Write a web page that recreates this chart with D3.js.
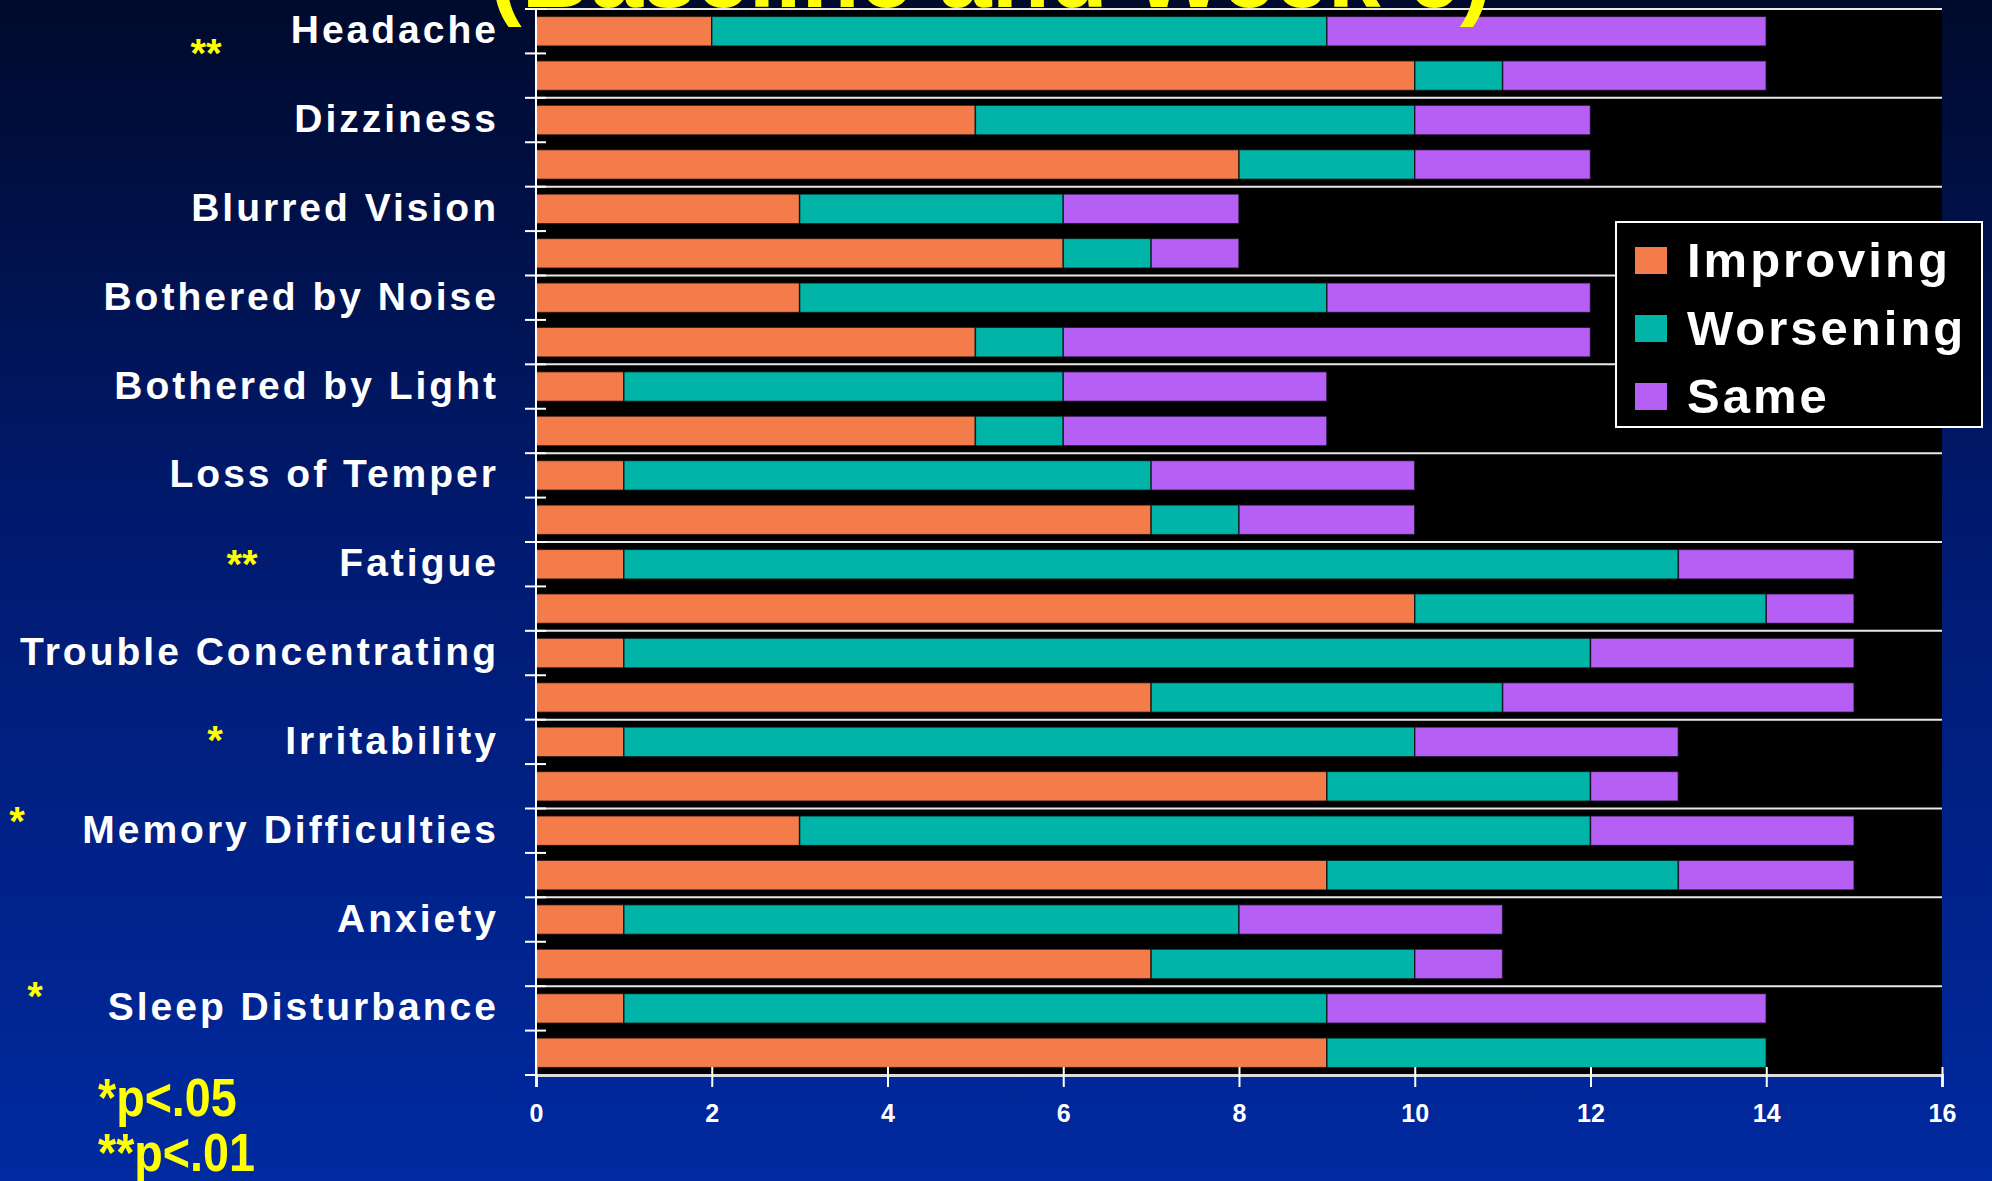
<!DOCTYPE html>
<html>
<head>
<meta charset="utf-8">
<script src="https://cdn.jsdelivr.net/npm/d3@7"></script>
<style>
  html, body { margin: 0; padding: 0; background: #001a70; }
  svg { display: block; }
  .cat-label { font-family: "Liberation Sans", Arial, sans-serif; font-weight: bold; fill: #fff; }
</style>
</head>
<body>
<div id="chart"></div>
<script>
const categories = [
  "Headache", "Dizziness", "Blurred Vision", "Bothered by Noise", "Bothered by Light",
  "Loss of Temper", "Fatigue", "Trouble Concentrating", "Irritability",
  "Memory Difficulties", "Anxiety", "Sleep Disturbance"
];
const series = ["Improving", "Worsening", "Same"];
const colors = ["#f47c4a", "#00b5a8", "#b65ff5"];

// upper bar of each pair
const groupAImproving = [2, 5, 3, 3, 1, 1, 1, 1, 1, 3, 1, 1];
const groupAWorsening = [7, 5, 3, 6, 5, 6, 12, 11, 9, 9, 7, 8];
const groupASame      = [5, 2, 2, 3, 3, 3, 2, 3, 3, 3, 3, 5];

// lower bar of each pair
const groupBImproving = [10, 8, 6, 5, 5, 7, 10, 7, 9, 9, 7, 9];
const groupBWorsening = [1, 2, 1, 1, 1, 1, 4, 4, 3, 4, 3, 5];
const groupBSame      = [3, 2, 1, 6, 3, 2, 1, 4, 1, 2, 1, 0];

const sigMarks = ["**", "", "", "", "", "", "**", "", "*", "*", "", "*"];
const xTicks = [0, 2, 4, 6, 8, 10, 12, 14, 16];
const footnotes = ["*p<.05", "**p<.01"];
const title = "(Baseline and Week 6)";

const width = 1992;
const height = 1181;

// where the significance stars sit (x, offset from row top)
const starPlace = {
  "Headache": [206, 41],
  "Fatigue": [242, 19],
  "Irritability": [215, 17],
  "Memory Difficulties": [17, 9],
  "Sleep Disturbance": [35, 7]
};

const plot = { left: 536, right: 1942, top: 9, bottom: 1075 };

const groups = ["A", "B"];
const rows = [];
categories.forEach((cat, i) => {
  const a = [groupAImproving[i], groupAWorsening[i], groupASame[i]];
  const b = [groupBImproving[i], groupBWorsening[i], groupBSame[i]];
  [a, b].forEach((vals, g) => {
    let x0 = 0;
    vals.forEach((v, s) => {
      rows.push({ cat, group: groups[g], series: series[s], x0, x1: x0 + v });
      x0 += v;
    });
  });
});

const svg = d3.select('#chart')
  .append('svg')
  .attr('width', width)
  .attr('height', height);

const defs = svg.append('defs');
const grad = defs.append('linearGradient')
  .attr('id', 'bg')
  .attr('x1', 0).attr('y1', 0).attr('x2', 0).attr('y2', 1);
grad.append('stop').attr('offset', '0%').attr('stop-color', '#000a2c');
grad.append('stop').attr('offset', '45%').attr('stop-color', '#001a70');
grad.append('stop').attr('offset', '100%').attr('stop-color', '#002aa0');

svg.append('rect')
  .attr('width', width).attr('height', height)
  .attr('fill', 'url(#bg)');

const xScale = d3.scaleLinear().domain([0, 16]).range([plot.left, plot.right]);
const yScale = d3.scaleBand().domain(categories).range([plot.top, plot.bottom]);
const ySub = d3.scaleBand().domain(groups)
  .range([0, yScale.bandwidth()])
  .paddingInner(0.33).paddingOuter(0.165);

// plot area
svg.append('rect')
  .attr('x', plot.left).attr('y', plot.top)
  .attr('width', plot.right - plot.left)
  .attr('height', plot.bottom - plot.top)
  .attr('fill', '#000');

// gridlines at category boundaries
svg.append('g')
  .selectAll('line')
  .data(categories)
  .join('line')
  .attr('x1', plot.left).attr('x2', plot.right)
  .attr('y1', (d) => yScale(d)).attr('y2', (d) => yScale(d))
  .attr('stroke', '#e8e8e8')
  .attr('stroke-width', 2);

// bars
svg.append('g')
  .selectAll('rect')
  .data(rows.filter((d) => d.x1 > d.x0))
  .join('rect')
  .attr('x', (d) => xScale(d.x0))
  .attr('y', (d) => yScale(d.cat) + ySub(d.group))
  .attr('width', (d) => xScale(d.x1) - xScale(d.x0))
  .attr('height', ySub.bandwidth())
  .attr('fill', (d) => colors[series.indexOf(d.series)])
  .attr('stroke', 'rgba(0,0,0,0.65)')
  .attr('stroke-width', 1.5);

// y axis
const yTickPos = [];
categories.forEach((c) => {
  yTickPos.push(yScale(c), yScale(c) + yScale.bandwidth() / 2);
});
yTickPos.push(plot.bottom);

const yAxisG = svg.append('g');
yAxisG.append('line')
  .attr('x1', plot.left).attr('x2', plot.left)
  .attr('y1', plot.top).attr('y2', plot.bottom + 12)
  .attr('stroke', '#fff').attr('stroke-width', 2);
yAxisG.selectAll('.ytick')
  .data(yTickPos)
  .join('line')
  .attr('class', 'ytick')
  .attr('x1', plot.left - 11).attr('x2', plot.left + 10)
  .attr('y1', (d) => d).attr('y2', (d) => d)
  .attr('stroke', '#fff').attr('stroke-width', 2);

// x axis
const xAxis = d3.axisBottom(xScale)
  .tickValues(xTicks)
  .tickSize(12)
  .tickPadding(17)
  .tickFormat(d3.format('d'));

const xAxisG = svg.append('g')
  .attr('transform', `translate(0, ${plot.bottom})`)
  .call(xAxis);
xAxisG.select('.domain').attr('stroke', '#ddd').attr('stroke-width', 3);
xAxisG.selectAll('.tick line')
  .attr('stroke', '#fff').attr('stroke-width', 2)
  .attr('y1', -8);
xAxisG.selectAll('.tick text')
  .attr('class', 'cat-label')
  .style('font-size', '25px');

// category labels
svg.append('g')
  .selectAll('text')
  .data(categories)
  .join('text')
  .attr('class', 'cat-label')
  .attr('x', 499)
  .attr('y', (d) => yScale(d) + ySub('A') + ySub.bandwidth() / 2 - 2)
  .attr('dy', '0.36em')
  .attr('text-anchor', 'end')
  .style('font-size', '39px')
  .style('letter-spacing', '3px')
  .text((d) => d);

// significance stars
svg.append('g')
  .selectAll('text')
  .data(categories.filter((c, i) => sigMarks[i]))
  .join('text')
  .attr('class', 'cat-label')
  .attr('x', (d) => starPlace[d][0])
  .attr('y', (d) => yScale(d) + starPlace[d][1] + 17)
  .attr('text-anchor', 'middle')
  .style('fill', '#ffff00')
  .style('font-size', '40px')
  .text((d) => sigMarks[categories.indexOf(d)]);

// footnotes, condensed like a narrow face
svg.append('g')
  .attr('transform', 'translate(98, 0) scale(0.88, 1)')
  .selectAll('text')
  .data(footnotes)
  .join('text')
  .attr('class', 'cat-label')
  .attr('x', 0)
  .attr('y', (d, i) => 1116 + i * 55)
  .style('fill', '#ffff00')
  .style('font-size', '53px')
  .text((d) => d);

// legend
const legend = svg.append('g').attr('transform', 'translate(1616, 222)');
legend.append('rect')
  .attr('width', 366).attr('height', 205)
  .attr('fill', '#000')
  .attr('stroke', '#fff').attr('stroke-width', 2);
const item = legend.selectAll('.item')
  .data(series)
  .join('g')
  .attr('class', 'item')
  .attr('transform', (d, i) => `translate(0, ${i * 68})`);
item.append('rect')
  .attr('x', 19).attr('y', 25)
  .attr('width', 32).attr('height', 27)
  .attr('fill', (d, i) => colors[i]);
item.append('text')
  .attr('class', 'cat-label')
  .attr('x', 71).attr('y', 55)
  .style('font-size', '49px')
  .style('letter-spacing', '3px')
  .text((d) => d);

// title, mostly cut off at the top
svg.append('text')
  .attr('class', 'cat-label')
  .attr('x', 490).attr('y', 7)
  .style('fill', '#ffff00')
  .style('font-size', '95px')
  .text(title);
</script>
</body>
</html>
